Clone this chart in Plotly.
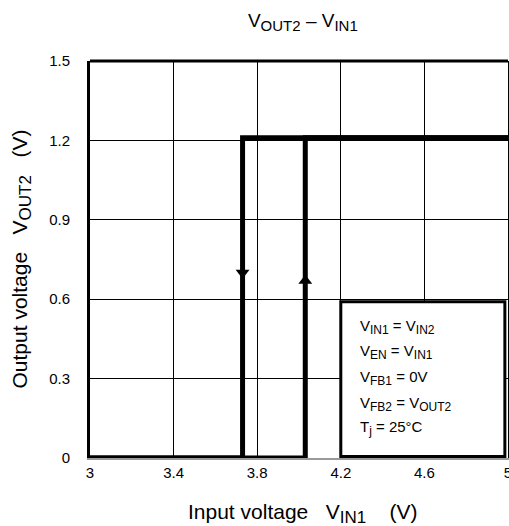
import plotly.graph_objects as go

# hysteresis of output 2 vs input voltage
vin_rise = [3.0, 4.03, 4.03, 5.0]
vout_rise = [0.0, 0.0, 1.21, 1.21]
vin_fall = [5.0, 3.73, 3.73, 3.0]
vout_fall = [1.21, 1.21, 0.0, 0.0]

# direction arrows on the vertical edges
arrow_x = [3.73, 4.03]
arrow_y = [0.70, 0.67]
arrow_sym = ["triangle-down", "triangle-up"]

x_ticks = [3, 3.4, 3.8, 4.2, 4.6, 5]
y_ticks = [0, 0.3, 0.6, 0.9, 1.2, 1.5]


def sub(s, px):
    return '<sub><span style="font-size:%dpx">%s</span></sub>' % (px, s)


conditions = [
    "V" + sub("IN1", 12) + " = V" + sub("IN2", 12),
    "V" + sub("EN", 12) + " = V" + sub("IN1", 12),
    "V" + sub("FB1", 12) + " = 0V",
    "V" + sub("FB2", 12) + " = V" + sub("OUT2", 12),
    "T" + sub("j", 12) + " = 25°C",
]
cond_y = [0.495, 0.400, 0.302, 0.204, 0.113]

FONT = "Liberation Sans, Arial, sans-serif"

W, H = 509, 526
ML, MT, MR, MB = 90, 61, 1, 68

fig = go.Figure()

fig.add_trace(go.Scatter(x=vin_rise, y=vout_rise, mode="lines",
                         line=dict(color="black", width=5), showlegend=False))
fig.add_trace(go.Scatter(x=vin_fall, y=vout_fall, mode="lines",
                         line=dict(color="black", width=5), showlegend=False))
fig.add_trace(go.Scatter(x=arrow_x, y=arrow_y, mode="markers",
                         marker=dict(symbol=arrow_sym, size=12, color="black"),
                         showlegend=False))

# conditions box
fig.add_shape(type="rect", x0=4.2, x1=4.985, y0=0.006, y1=0.59,
              line=dict(color="black", width=3), fillcolor="white", layer="above")
for txt, yy in zip(conditions, cond_y):
    fig.add_annotation(x=4.28, y=yy, text=txt, showarrow=False, xanchor="left",
                       font=dict(size=15, color="black", family=FONT))

# top edge of the frame
fig.add_shape(type="line", xref="paper", yref="paper", x0=0, x1=1, y0=1, y1=1,
              line=dict(color="black", width=3))

# axis titles
fig.add_annotation(xref="paper", yref="paper", x=0, y=0.5, xanchor="center", yanchor="middle",
                   xshift=-(ML - 21), textangle=-90, showarrow=False,
                   text="Output voltage   V" + sub("OUT2", 17) + "   (V)",
                   font=dict(size=21, color="black", family=FONT))
fig.add_annotation(xref="paper", yref="paper", x=0.5, y=0, xanchor="center", yanchor="middle",
                   xshift=4, yshift=-55, showarrow=False,
                   text="Input voltage   V" + sub("IN1", 17) + "    (V)",
                   font=dict(size=21, color="black", family=FONT))

fig.update_layout(
    width=W, height=H,
    margin=dict(l=ML, r=MR, t=MT, b=MB),
    paper_bgcolor="white", plot_bgcolor="white",
    font=dict(family=FONT, color="black", size=15),
    title=dict(text="V" + sub("OUT2", 15) + " – V" + sub("IN1", 15),
               x=0.595, xanchor="center",
               y=0.962, yanchor="middle", font=dict(size=19)),
)
fig.update_xaxes(range=[3, 5], tickvals=x_ticks, ticktext=["3", "3.4", "3.8", "4.2", "4.6", "5"],
                 showgrid=True, gridcolor="black", gridwidth=1, zeroline=False,
                 showline=True, linecolor="#999999", linewidth=2,
                 ticks="", tickfont=dict(size=15), automargin=False,
                 ticklabeloverflow="allow")
fig.update_yaxes(range=[0, 1.5], tickvals=y_ticks, ticktext=["0", "0.3", "0.6", "0.9", "1.2", "1.5"],
                 showgrid=True, gridcolor="black", gridwidth=1, zeroline=False,
                 showline=True, linecolor="black", linewidth=3, mirror=True,
                 ticks="", ticklabelstandoff=14, tickfont=dict(size=15), automargin=False)

# drop the default page margin so the figure fills the window
fig.write_html("out.html", config={"displayModeBar": False},
               post_script="document.body.style.margin='0';"
                           "document.documentElement.style.overflow='hidden';")
